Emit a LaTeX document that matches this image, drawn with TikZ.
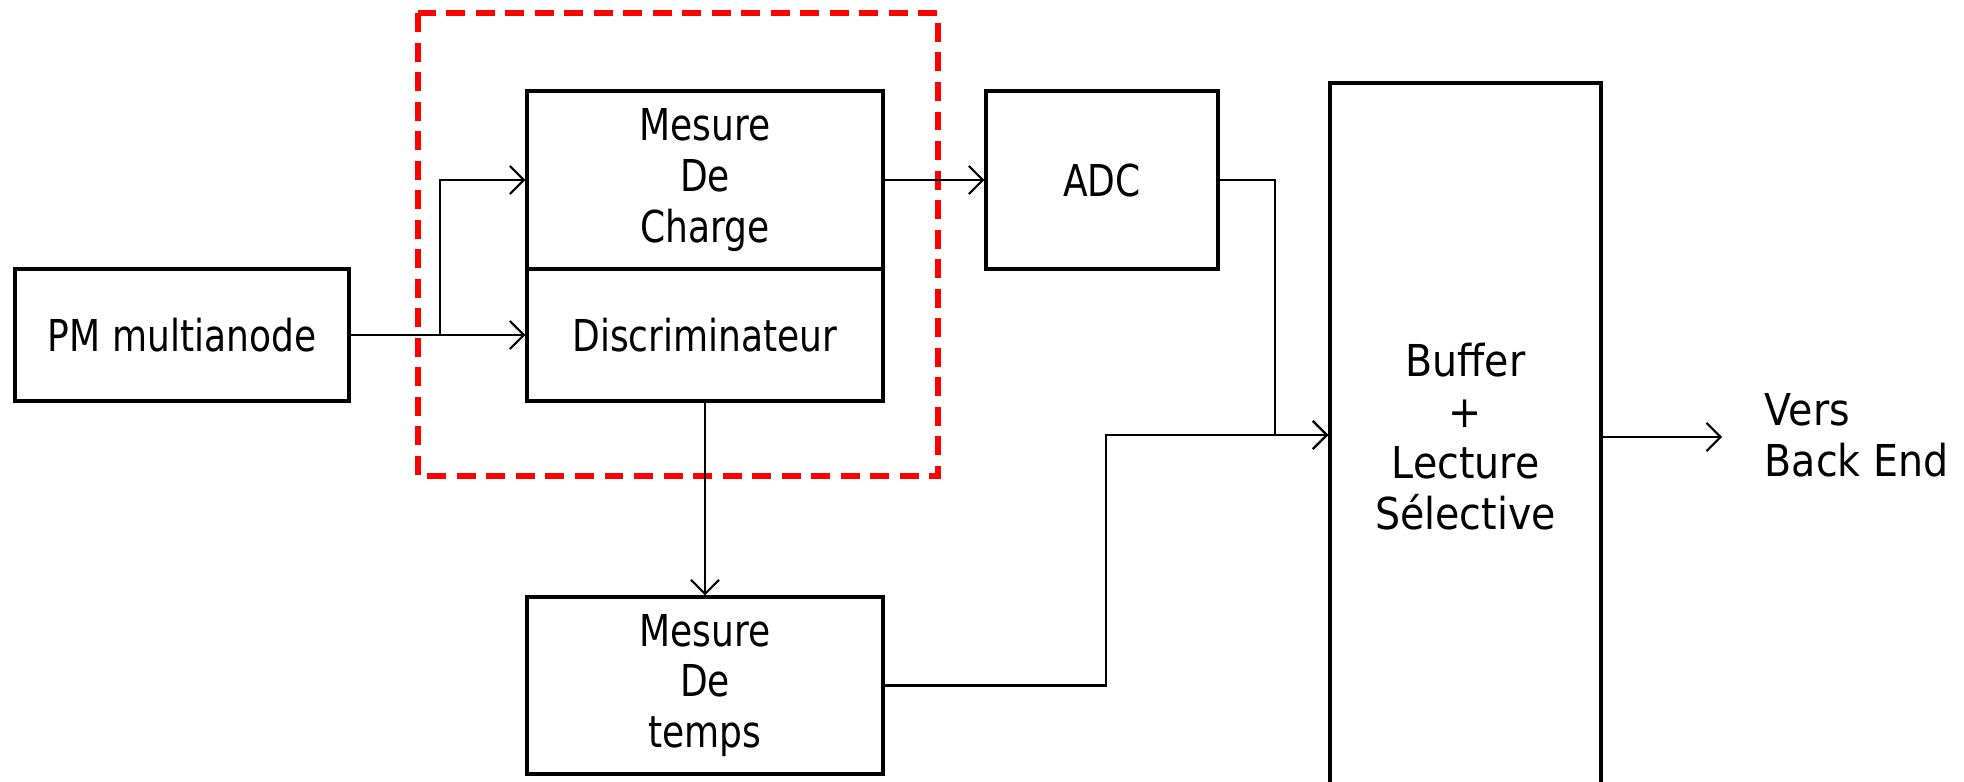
\documentclass[tikz,border=0pt]{standalone}
\usepackage{fontspec}
\setmainfont{DejaVu Sans}[FakeStretch=0.82]
\newfontfamily\widefont{DejaVu Sans}[FakeStretch=0.9]
\usetikzlibrary{arrows.meta}

\tikzset{
  bloc/.style={draw,line width=0.9pt,minimum width=3.56cm,inner sep=0pt,
               align=center,font=\fontsize{12.5}{14.5}\selectfont},
  conn/.style={->,line width=0.6pt},
  zone/.style={draw=red,line width=1.5pt,dash pattern=on 5.4pt off 3pt}
}

\begin{document}
\begin{tikzpicture}[>={Straight Barb[length=4pt,width=8pt]}]
   \useasboundingbox (0,0) rectangle (19.64,7.81);

   % blocs
   \node[bloc,minimum width=3.34cm,minimum height=1.32cm] (pm) at (1.82,4.46) {PM multianode};
   \node[bloc,minimum height=1.78cm] (charge) at (7.05,6.01) {Mesure\\De\\Charge};
   \node[bloc,minimum height=1.32cm] (discri) at (7.05,4.46) {Discriminateur};
   \node[bloc,minimum width=2.32cm,minimum height=1.78cm] (adc) at (11.02,6.01) {ADC};
   \node[bloc,minimum height=1.77cm] (temps) at (7.05,0.955) {Mesure\\De\\temps};
   \node[bloc,minimum width=2.71cm,minimum height=7.08cm,font=\widefont\fontsize{12.5}{14.5}\selectfont]
        (buffer) at (14.655,3.44) {Buffer\\+\\Lecture\\Sélective};
   \node[anchor=west,align=left,inner sep=0pt,font=\widefont\fontsize{12.5}{14.5}\selectfont]
        (backend) at (17.64,3.46) {Vers\\Back End};

   % zone en pointilles
   \draw[zone] (4.18,7.68) rectangle (9.38,3.05);

   % liaisons
   \coordinate (fork) at (4.40,4.46);
   \coordinate (join) at (12.75,3.46);
   \coordinate (jog) at (11.06,3.46);
   \coordinate (out) at (17.22,3.44);

   \draw[conn] (pm.east) -- (discri.west);
   \draw[conn] (fork) |- (charge.west);
   \draw[conn] (charge.east) -- (adc.west);
   \draw[conn] (adc.east) -| (join) -- (join -| buffer.west);
   \draw[conn] (discri.south) -- (temps.north);
   \draw[conn] (temps.east) -| (jog) -- (jog -| buffer.west);
   \draw[conn] (buffer.east) -- (out);
\end{tikzpicture}
\end{document}
